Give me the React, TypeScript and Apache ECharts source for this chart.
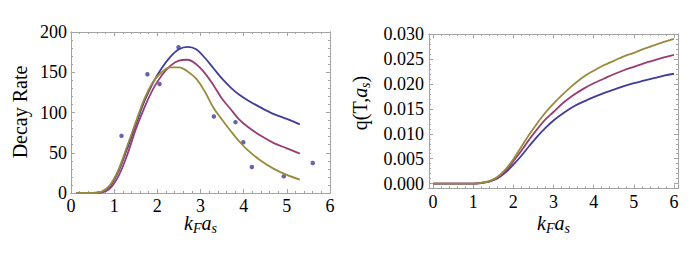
import React, { useEffect, useRef } from "react";
import * as echarts from "echarts";

// ---------- data ----------
const leftX = [0.13, 0.5, 0.7, 0.9, 1.1, 1.3, 1.5, 1.7, 1.9, 2.1, 2.3, 2.5, 2.7, 2.9, 3.1, 3.3, 3.5, 3.7, 3.9, 4.1, 4.4, 4.7, 5.0, 5.3];
const leftBlue = [0, 0, 1, 8, 27, 55, 85, 114, 137, 155, 169, 178.5, 181.5, 178.5, 168, 155, 142, 131, 122, 115, 106, 98, 92, 85.3];
const leftMagenta = [0, 0, 0.5, 5.5, 21, 47, 79, 106, 129, 146, 158, 164.5, 165.5, 160, 149, 134, 117, 104, 91, 82, 71, 62, 55.5, 48.9];
const leftGold = [0, 0, 1.5, 9.5, 29, 58, 88, 117, 138, 150, 156, 156, 151, 142, 126, 106, 91, 77, 64, 53, 40, 30, 22.5, 16.6];

const pointX = [1.17, 1.77, 2.05, 2.49, 3.31, 3.81, 3.99, 4.19, 4.93, 5.6];
const pointY = [71, 147.5, 135.4, 181, 95, 88, 63, 32.3, 20.7, 37.3];

const rightX = [0, 0.5, 1.0, 1.2, 1.4, 1.6, 1.8, 2.0, 2.2, 2.4, 2.6, 2.8, 3.0, 3.25, 3.5, 3.75, 4.0, 4.25, 4.5, 4.75, 5.0, 5.25, 5.5, 5.75, 6.0];
const rightBlue = [0, 0, 0, 0.0001, 0.0004, 0.001, 0.0022, 0.0038, 0.0056, 0.0076, 0.0095, 0.0112, 0.0127, 0.0142, 0.0155, 0.0165, 0.0174, 0.0182, 0.0189, 0.0196, 0.0202, 0.0207, 0.0212, 0.0217, 0.0221];
const rightMagenta = [0, 0, 0, 0.00015, 0.00045, 0.0011, 0.0025, 0.0045, 0.0066, 0.0089, 0.011, 0.0129, 0.0144, 0.0163, 0.0178, 0.0191, 0.0202, 0.0211, 0.022, 0.0228, 0.0235, 0.0242, 0.0248, 0.0254, 0.0259];
const rightGold = [0, 0, 0, 0.00015, 0.0005, 0.0013, 0.0028, 0.0049, 0.0074, 0.0099, 0.0122, 0.0143, 0.0161, 0.0181, 0.0199, 0.0215, 0.0227, 0.0238, 0.0247, 0.0256, 0.0263, 0.0271, 0.0278, 0.0285, 0.0291];

const xTickLabels = [0, 1, 2, 3, 4, 5, 6];
const leftYTickLabels = [0, 50, 100, 150, 200];
const rightYTickLabels = [0, 0.005, 0.01, 0.015, 0.02, 0.025, 0.03];

// ---------- styles ----------
const FONT = "Liberation Serif";
const FRAME = "#a3a3a3";
const BLUE = "#3F3D99";
const MAGENTA = "#993D71";
const GOLD = "#998B3D";

function subdivide(majors: number[], n: number) {
  const out: number[] = [];
  for (let i = 0; i < majors.length - 1; i++) {
    const a = majors[i];
    const b = majors[i + 1];
    for (let k = 1; k < n; k++) out.push(+(a + ((b - a) * k) / n).toFixed(6));
  }
  return out;
}

function frameAxes(
  dim: "x" | "y",
  gridIndex: number,
  min: number,
  max: number,
  majors: number[],
  minors: number[],
  formatter: (v: number) => string,
  margin: number
) {
  const sides = dim === "x" ? ["bottom", "top"] : ["left", "right"];
  const axes: any[] = [];
  sides.forEach((pos, si) => {
    [true, false].forEach((isMajor) => {
      axes.push({
        type: "value",
        gridIndex,
        min,
        max,
        position: pos,
        axisLine: { show: true, onZero: false, lineStyle: { color: FRAME, width: 1 } },
        axisTick: {
          show: true,
          inside: true,
          length: isMajor ? 4 : 2,
          customValues: isMajor ? majors : minors,
          lineStyle: { color: FRAME, width: 1 },
        },
        axisLabel: {
          show: si === 0 && isMajor,
          customValues: majors,
          formatter,
          margin,
          fontFamily: FONT,
          fontSize: 18,
          color: "#000",
        },
        splitLine: { show: false },
        minorTick: { show: false },
      });
    });
  });
  return axes;
}

const pairs = (xs: number[], ys: number[]) => xs.map((x, i) => [x, ys[i]]);

const italic = { fontFamily: FONT, fontStyle: "italic", fontSize: 20, lineHeight: 24, fill: "#000" };
const normal = { fontFamily: FONT, fontSize: 20, lineHeight: 24, fill: "#000" };
const sub = { fontFamily: FONT, fontStyle: "italic", fontSize: 14, lineHeight: 12, verticalAlign: "bottom", fill: "#000" };
const rich = { i: italic, n: normal, s: sub };

export default function App() {
  const ref = useRef<HTMLDivElement>(null);
  useEffect(() => {
    if (!ref.current) return;
    const chart = echarts.init(ref.current, undefined, { renderer: "svg" });
    const lineSeries = (data: number[][], color: string, gi: number) => ({
      type: "line",
      xAxisIndex: gi * 4,
      yAxisIndex: gi * 4,
      data,
      showSymbol: false,
      smooth: 0.35,
      lineStyle: { color, width: 1.8 },
      itemStyle: { color },
      silent: true,
    });
    chart.setOption({
      animation: false,
      textStyle: { fontFamily: FONT },
      grid: [
        { left: 71, top: 32, width: 259, height: 161, outerBoundsMode: "none" },
        { left: 429, top: 34, width: 249, height: 154.5, outerBoundsMode: "none" },
      ],
      xAxis: [
        ...frameAxes("x", 0, 0, 6, xTickLabels, subdivide(xTickLabels, 5), (v) => String(v), 4),
        ...frameAxes("x", 1, -0.1, 6.1, xTickLabels, subdivide(xTickLabels, 5), (v) => String(v), 4),
      ],
      yAxis: [
        ...frameAxes("y", 0, 0, 200, leftYTickLabels, subdivide(leftYTickLabels, 5), (v) => String(v), 4),
        ...frameAxes("y", 1, -0.001, 0.0301, rightYTickLabels, subdivide(rightYTickLabels, 5), (v) => v.toFixed(3), 5),
      ],
      series: [
        lineSeries(pairs(leftX, leftBlue), BLUE, 0),
        lineSeries(pairs(leftX, leftMagenta), MAGENTA, 0),
        lineSeries(pairs(leftX, leftGold), GOLD, 0),
        {
          type: "scatter",
          xAxisIndex: 0,
          yAxisIndex: 0,
          data: pairs(pointX, pointY),
          symbolSize: 4.5,
          itemStyle: { color: BLUE },
          silent: true,
        },
        lineSeries(pairs(rightX, rightBlue), BLUE, 1),
        lineSeries(pairs(rightX, rightMagenta), MAGENTA, 1),
        lineSeries(pairs(rightX, rightGold), GOLD, 1),
      ],
      graphic: [
        {
          type: "text",
          x: 200.5,
          y: 223,
          style: { text: "{i|k}{s|F}{i|a}{s|s}", rich, align: "center", verticalAlign: "middle" },
        },
        {
          type: "text",
          x: 553.5,
          y: 223,
          style: { text: "{i|k}{s|F}{i|a}{s|s}", rich, align: "center", verticalAlign: "middle" },
        },
        {
          type: "text",
          x: 20,
          y: 112,
          rotation: Math.PI / 2,
          style: { text: "{n|Decay Rate}", rich, align: "center", verticalAlign: "middle" },
        },
        {
          type: "text",
          x: 360,
          y: 103,
          rotation: Math.PI / 2,
          style: { text: "{n|q(T,}{i|a}{s|s}{n|)}", rich, align: "center", verticalAlign: "middle" },
        },
      ],
    });
    return () => chart.dispose();
  }, []);
  return (
    <div
      ref={ref}
      style={{ position: "absolute", left: 0, top: 0, width: 692, height: 262, background: "#fff" }}
    />
  );
}
